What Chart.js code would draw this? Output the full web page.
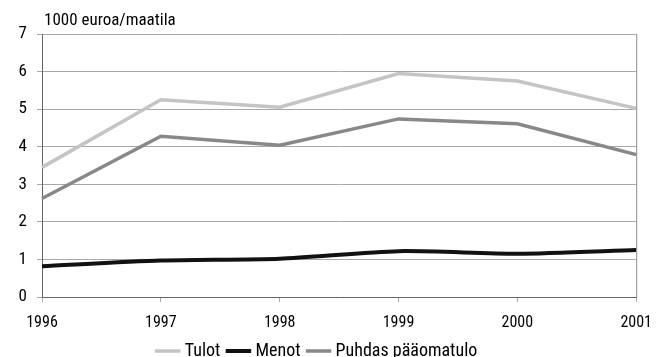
<!DOCTYPE html>
<html>
<head>
<meta charset="utf-8">
<script src="https://cdn.jsdelivr.net/npm/chart.js@4/dist/chart.umd.min.js"></script>
<style>
  html, body { margin: 0; padding: 0; background: #fff; }
  #wrap { width: 663px; height: 357px; }
</style>
</head>
<body>
<div id="wrap"><canvas id="myChart" width="663" height="357"></canvas></div>
<script>
const years = ["1996", "1997", "1998", "1999", "2000", "2001"];
const tulot = [3.45, 5.25, 5.05, 5.95, 5.75, 5.02];
const menot = [0.82, 0.97, 1.02, 1.22, 1.15, 1.25];
const puhdas = [2.62, 4.28, 4.04, 4.74, 4.61, 3.79];
const unitLabel = "1000 euroa/maatila";

const fontFamily = "'Liberation Sans Narrow', 'Arial Narrow', 'Roboto Condensed', 'Liberation Sans', sans-serif";

// frame around the plot area + unit text above the y axis
const framePlugin = {
    id: "framePlugin",
    afterDraw: (chart) => {
        const ctx = chart.ctx;
        const a = chart.chartArea;
        ctx.save();
        ctx.strokeStyle = "#8c8c8c";
        ctx.lineWidth = 1;
        ctx.beginPath();
        ctx.moveTo(a.right + 0.5, a.top);
        ctx.lineTo(a.right + 0.5, a.bottom);
        ctx.stroke();
        ctx.fillStyle = "#000000";
        ctx.font = "17px " + fontFamily;
        ctx.textBaseline = "alphabetic";
        ctx.textAlign = "left";
        ctx.fillText(unitLabel, a.left + 2, a.top - 9);
        ctx.restore();
    }
};

const ctx = document.getElementById("myChart").getContext("2d");

const config = {
    type: "line",
    data: {
        labels: years,
        datasets: [{
            label: "Tulot",
            data: tulot,
            borderColor: "#c4c4c4",
            backgroundColor: "#c4c4c4",
            borderWidth: 3.5,
            pointRadius: 0,
            tension: 0,
        }, {
            label: "Menot",
            data: menot,
            borderColor: "#111111",
            backgroundColor: "#111111",
            borderWidth: 4,
            pointRadius: 0,
            tension: 0.25,
        }, {
            label: "Puhdas pääomatulo",
            data: puhdas,
            borderColor: "#888888",
            backgroundColor: "#888888",
            borderWidth: 3.5,
            pointRadius: 0,
            tension: 0,
        }],
    },
    options: {
        responsive: false,
        animation: false,
        layout: {
            padding: { top: 34, right: 26, left: 0, bottom: -3 }
        },
        plugins: {
            legend: {
                position: "bottom",
                maxHeight: 28,
                labels: {
                    usePointStyle: true,
                    pointStyle: "line",
                    boxWidth: 16,
                    padding: 10,
                    color: "#000000",
                    font: { family: fontFamily, size: 18 },
                },
            },
            tooltip: { enabled: false },
        },
        scales: {
            x: {
                offset: false,
                afterFit: (scale) => { scale.height = 35; },
                grid: {
                    drawOnChartArea: false,
                    drawTicks: true,
                    tickLength: 5,
                    color: "#aaaaaa",
                },
                border: { color: "#666666", width: 1 },
                ticks: {
                    color: "#000000",
                    maxRotation: 0,
                    padding: 11,
                    font: { family: fontFamily, size: 16 },
                },
            },
            y: {
                min: 0,
                max: 7,
                afterFit: (scale) => { scale.width = 42; },
                grid: {
                    color: "#a8a8a8",
                    drawTicks: true,
                    tickLength: 5,
                },
                border: { color: "#666666", width: 1 },
                ticks: {
                    stepSize: 1,
                    color: "#000000",
                    padding: 10,
                    font: { family: fontFamily, size: 17 },
                },
            },
        },
    },
    plugins: [framePlugin],
};

const myChart = new Chart(ctx, config);
</script>
</body>
</html>
